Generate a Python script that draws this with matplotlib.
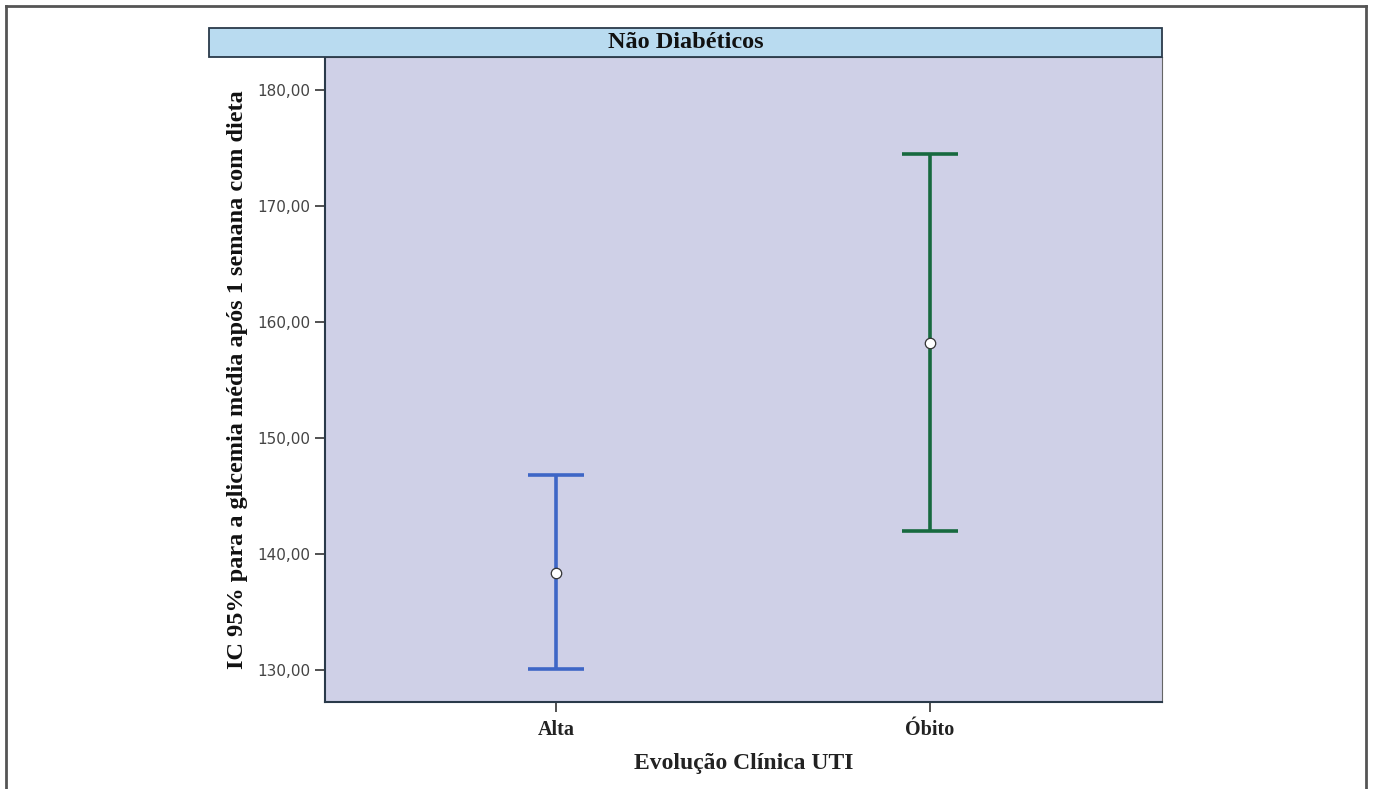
import matplotlib
matplotlib.use("Agg")
import matplotlib.pyplot as plt
from matplotlib.lines import Line2D
from matplotlib.patches import Rectangle

categories = ["Alta", "Óbito"]
means = [138.4, 158.2]
lower = [130.1, 142.0]
upper = [146.8, 174.5]
colors = ["#3e66c6", "#17693f"]
yticks = [130, 140, 150, 160, 170, 180]
ytick_labels = ["130,00", "140,00", "150,00", "160,00", "170,00", "180,00"]

fig = plt.figure(figsize=(13.73, 7.89), dpi=100)
fig.patch.set_facecolor("white")

ax = fig.add_axes([0.2367, 0.1103, 0.6096, 0.8175])
ax.set_facecolor("#cfd0e7")
x = list(range(len(categories)))
for i in x:
    ax.errorbar(i, means[i], yerr=[[means[i] - lower[i]], [upper[i] - means[i]]],
                fmt="none", ecolor=colors[i], elinewidth=2.6, capsize=20, capthick=2.6, zorder=2)
    ax.plot(i, means[i], "o", markersize=7.5, markerfacecolor="white",
            markeredgecolor="#333333", markeredgewidth=0.9, zorder=3)

ax.set_xlim(-0.618, 1.62)
ax.set_ylim(127.24, 182.84)
ax.set_xticks(x)
ax.set_xticklabels(categories, fontfamily="Liberation Serif", fontweight="bold", fontsize=14.5, color="#222222")
ax.set_yticks(yticks)
ax.set_yticklabels(ytick_labels, fontfamily="DejaVu Sans", fontsize=11, color="#444444")
ax.tick_params(axis="both", length=7, width=1.2, color="#333333")
ax.tick_params(axis="x", pad=6)
for side in ["top", "right"]:
    ax.spines[side].set_color("#666666")
    ax.spines[side].set_linewidth(0.8)
for side in ["left", "bottom"]:
    ax.spines[side].set_color("#2a3a4a")
    ax.spines[side].set_linewidth(1.5)

ax.set_ylabel("IC 95% para a glicemia média após 1 semana com dieta",
              fontfamily="Liberation Serif", fontweight="bold", fontsize=17.5, color="#111111", labelpad=7)
ax.set_xlabel("Evolução Clínica UTI", fontfamily="Liberation Serif", fontweight="bold",
              fontsize=17, color="#222222", labelpad=9)

# strip header
sx0, sx1 = 0.1522, 0.8463
sy0, sy1 = 0.9278, 0.9645
fig.patches.append(Rectangle((sx0, sy0), sx1 - sx0, sy1 - sy0, transform=fig.transFigure,
                             facecolor="#b9dbf0", edgecolor="#2a3a4a", linewidth=1.3, zorder=1))
fig.text((sx0 + sx1) / 2, (sy0 + sy1) / 2, "Não Diabéticos", ha="center", va="center",
         fontfamily="Liberation Serif", fontweight="bold", fontsize=17.5, color="#111111")

# outer frame
fc = "#555555"
fig.lines.append(Line2D([6 / 1373, 6 / 1373], [0, 1 - 6 / 789], transform=fig.transFigure, color=fc, lw=2))
fig.lines.append(Line2D([6 / 1373, 1366 / 1373], [1 - 6 / 789, 1 - 6 / 789], transform=fig.transFigure, color=fc, lw=2))
fig.lines.append(Line2D([1366 / 1373, 1366 / 1373], [0, 1 - 6 / 789], transform=fig.transFigure, color=fc, lw=2))

fig.savefig("out.png", dpi=100, facecolor="white")
